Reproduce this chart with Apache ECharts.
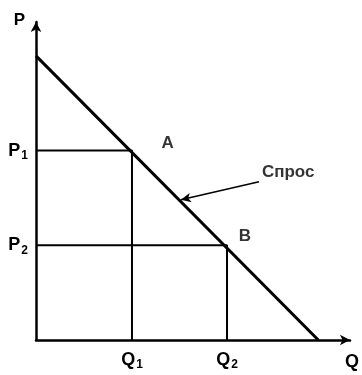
<!DOCTYPE html>
<html>
<head>
<meta charset="utf-8">
<script src="https://cdn.jsdelivr.net/npm/echarts@6/dist/echarts.min.js"></script>
<style>
html, body { margin: 0; padding: 0; background: #fff; }
#showChart { width: 362px; height: 375px; }
</style>
</head>
<body>
<div id="showChart"></div>
<script>
// данные графика (единицы: Q и P)
var demandLine = [[0, 3], [3, 0]];
var qValues = [1.02, 2.03];
var qNames = ['Q1', 'Q2'];
var pValues = [2, 1];
var pNames = ['P1', 'P2'];
var guideA = [[0, 2], [1.02, 2], [1.02, 0]];
var guideB = [[0, 1], [2.03, 1], [2.03, 0]];
var pointNames = ['A', 'B', 'Спрос'];
var pointCoords = [[1.4, 2.08], [2.22, 1.09], [2.68, 1.77]];
var arrowFrom = [2.37, 1.67];
var arrowTo = [1.54, 1.48];

var myChart = echarts.init(document.getElementById('showChart'));

var font = 'Arial, "Liberation Sans", sans-serif';
var richTick = {
	m: { fontSize: 18, fontWeight: 'bold', color: '#000', fontFamily: font },
	s: { fontSize: 12, fontWeight: 'bold', color: '#000', fontFamily: font, padding: [10, 0, 0, 1] }
};
//подписи делений с нижним индексом
function tickFormat(vals, names)
{
	return function(v) {
		for (var k = 0; k < vals.length; k++) {
			if (Math.abs(vals[k] - v) < 1e-6) {
				var t = names[k];
				return '{m|' + t.charAt(0) + '}{s|' + t.charAt(1) + '}';
			}
		}
		return '';
	};
}

var labelData = [];
for (var i = 0; i < pointNames.length; i++) {
	labelData.push({ name: pointNames[i], value: pointCoords[i] });
}

var option = {
	animation: false,
	backgroundColor: '#fff',
	grid: { left: 36, right: 10, top: 22, bottom: 35 },
	xAxis: {
		type: 'value', min: 0, max: 3.337, interval: 1,
		splitLine: { show: false },
		axisTick: { show: false },
		axisLine: { lineStyle: { color: '#000', width: 2.5 }, symbol: ['none', 'arrow'], symbolSize: [8, 10] },
		axisLabel: {
			formatter: tickFormat(qValues, qNames), rich: richTick, margin: 9,
			customValues: qValues
		},
		name: 'Q', nameLocation: 'end', nameGap: -5,
		nameTextStyle: { fontSize: 18, fontWeight: 'bold', color: '#000', fontFamily: font, verticalAlign: 'top', align: 'left', padding: [13, 0, 0, 0] }
	},
	yAxis: {
		type: 'value', min: 0, max: 3.358, interval: 1,
		splitLine: { show: false },
		axisTick: { show: false },
		axisLine: { lineStyle: { color: '#000', width: 2.5 }, symbol: ['none', 'arrow'], symbolSize: [8, 10] },
		axisLabel: {
			formatter: tickFormat(pValues, pNames), rich: richTick, margin: 8,
			customValues: pValues
		},
		name: 'P', nameLocation: 'end', nameGap: 2,
		nameTextStyle: { fontSize: 17, fontWeight: 'bold', color: '#000', fontFamily: font, align: 'right', verticalAlign: 'middle', padding: [9, 11, 0, 0] }
	},
	series: [
		{
			name: 'Спрос', type: 'line', data: demandLine, symbol: 'none',
			lineStyle: { color: '#000', width: 3 },
			markLine: {
				silent: true, symbol: ['none', 'arrow'], symbolSize: [7, 10],
				lineStyle: { color: '#000', width: 1.5, type: 'solid' },
				label: { show: false },
				data: [[{ coord: arrowFrom }, { coord: arrowTo }]]
			}
		},
		{ type: 'line', data: guideA, symbol: 'none', lineStyle: { color: '#000', width: 2 } },
		{ type: 'line', data: guideB, symbol: 'none', lineStyle: { color: '#000', width: 2 } },
		{
			type: 'scatter', data: labelData, symbolSize: 0, clip: false,
			label: {
				show: true, position: 'inside', formatter: '{b}',
				fontSize: 17, fontWeight: 'bold', color: '#000', fontFamily: font
			}
		}
	]
};
myChart.setOption(option);
</script>
</body>
</html>
